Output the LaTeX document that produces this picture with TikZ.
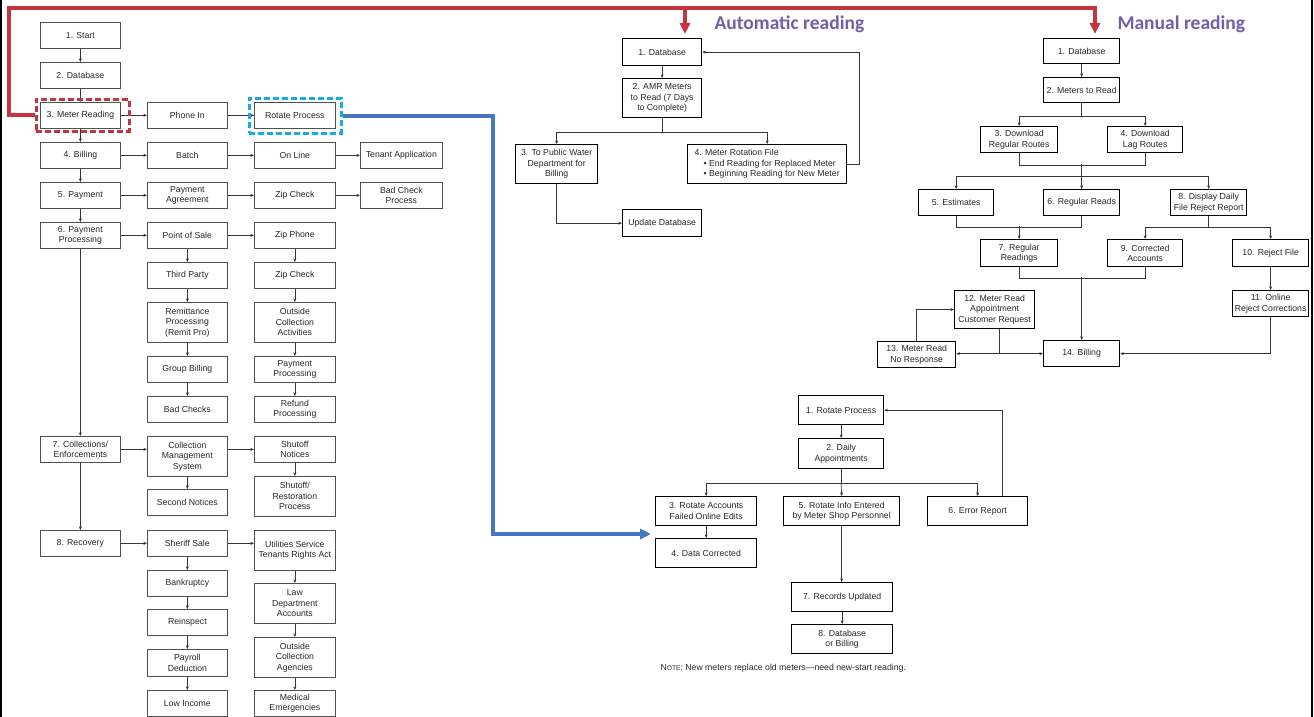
\documentclass[tikz,border=0pt]{standalone}
\usepackage{fontspec}
\setmainfont{Liberation Sans}
\newfontfamily\titlefont{Carlito}
\usetikzlibrary{arrows.meta}
\definecolor{linegray}{RGB}{55,55,55}
\definecolor{boxgray}{RGB}{80,80,80}
\definecolor{textgray}{RGB}{40,40,40}
\definecolor{redline}{RGB}{198,52,62}
\definecolor{blueline}{RGB}{68,118,196}
\definecolor{cyanline}{RGB}{24,170,226}
\definecolor{titlepurple}{RGB}{116,94,166}
\tikzset{
  box/.style={draw=boxgray, line width=0.7pt, fill=white, inner sep=1pt,
    align=center, anchor=north west, text=textgray,
    font=\fontsize{8.7}{10.5}\selectfont},
  bbox/.style={box, draw=black, line width=1.3pt},
  ln/.style={draw=linegray, line width=0.6pt},
  arr/.style={ln, -{Stealth[length=3.6pt,width=3pt]}},
  redpath/.style={draw=redline, line width=4pt},
  bluepath/.style={draw=blueline, line width=4pt},
  bigtip/.style={-{Triangle[length=11pt,width=10pt]}},
  title/.style={anchor=west, text=titlepurple, font=\titlefont\bfseries\fontsize{19.5}{22}\selectfont},
}
% box from (x1,y1) to (x2,y2), y measured downward
\newcommand\bx[6][box]{\node[#1,minimum width={(#4-(#2))*1pt},minimum height={(#5-(#3))*1pt}] (#6) at (#2,#3)}
\begin{document}
\begin{tikzpicture}[x=1pt,y=-1pt]
\useasboundingbox (0,0) rectangle (1314,717);
\fill[white] (0,0) rectangle (1314,717);
\draw[black, line width=1.3pt] (1,0) -- (1,717);
\draw[black, line width=1.3pt] (1312,0) -- (1312,717);

% ---------- main billing flow ----------
\bx{40}{22}{120}{48}{start} {1. Start};
\bx{40}{62}{120}{88}{db} {2. Database};
\bx{40}{102}{120}{128}{mr} {3. Meter Reading};
\bx{40}{142}{120}{168}{bill} {4. Billing};
\bx{40}{182}{120}{208}{pay} {5. Payment};
\bx{40}{222}{120}{248}{pp} {6. Payment\\Processing};
\bx{40}{436}{120}{462}{coll} {7. Collections/\\Enforcements};
\bx{40}{530}{120}{556}{rec} {8. Recovery};

\bx{147}{102}{227}{128}{phone} {Phone In};
\bx{147}{142}{227}{168}{batch} {Batch};
\bx{147}{182}{227}{208}{pagr} {Payment\\Agreement};
\bx{147}{222}{227}{248}{pos} {Point of Sale};
\bx{147}{262}{227}{288}{third} {Third Party};
\bx{147}{302}{227}{342}{remit} {Remittance\\Processing\\(Remit Pro)};
\bx{147}{356}{227}{382}{group} {Group Billing};
\bx{147}{396}{227}{422}{badch} {Bad Checks};
\bx{147}{436}{227}{476}{cms} {Collection\\Management\\System};
\bx{147}{489}{227}{515}{second} {Second Notices};
\bx{147}{530}{227}{556}{sheriff} {Sheriff Sale};
\bx{147}{570}{227}{596}{bankr} {Bankruptcy};
\bx{147}{609}{227}{635}{reinsp} {Reinspect};
\bx{147}{649}{227}{676}{payroll} {Payroll\\Deduction};
\bx{147}{690}{227}{716}{lowinc} {Low Income};

\bx{254}{102}{335}{128}{rot} {Rotate Process};
\bx{254}{142}{335}{168}{online} {On Line};
\bx{254}{182}{335}{208}{zipc} {Zip Check};
\bx{254}{222}{335}{248}{zipp} {Zip Phone};
\bx{254}{262}{335}{288}{zipcb} {Zip Check};
\bx{254}{302}{335}{342}{outact} {Outside\\Collection\\Activities};
\bx{254}{356}{335}{382}{payproc} {Payment\\Processing};
\bx{254}{396}{335}{422}{refund} {Refund\\Processing};
\bx{254}{436}{335}{462}{shutn} {Shutoff\\Notices};
\bx{254}{476}{335}{516}{shutr} {Shutoff/\\Restoration\\Process};
\bx{254}{530}{335}{570}{util} {Utilities Service\\Tenants Rights Act};
\bx{254}{583}{335}{623}{law} {Law\\Department\\Accounts};
\bx{254}{637}{335}{677}{outag} {Outside\\Collection\\Agencies};
\bx{254}{690}{335}{716}{medic} {Medical\\Emergencies};

\bx{360}{142}{442}{168}{tenant} {Tenant Application};
\bx{360}{182}{442}{208}{badcp} {Bad Check\\Process};

% vertical links
\foreach \a/\b in {start/db, db/mr, mr/bill, bill/pay, pay/pp, pp/coll, coll/rec,
  pos/third, third/remit, remit/group, group/badch, cms/second,
  sheriff/bankr, bankr/reinsp, reinsp/payroll, payroll/lowinc,
  zipp/zipcb, zipcb/outact, outact/payproc, payproc/refund, shutn/shutr,
  util/law, law/outag, outag/medic}
  \draw[arr] (\a) -- (\b);
% horizontal links, level with the source box
\foreach \a/\b in {mr/phone, phone/rot, bill/batch, batch/online, online/tenant,
  pay/pagr, pagr/zipc, zipc/badcp, pp/pos, pos/zipp, coll/cms,
  rec/sheriff, sheriff/util}
  \draw[arr] (\a.east) -- (\a.east -| \b.west);
\draw[arr] (shutn.west -| cms.east) -- (shutn.west);

% highlight frames
\node[draw=redline, line width=2.6pt, dash pattern=on 6pt off 3pt,
  minimum width=93pt, minimum height=32pt, anchor=north west, inner sep=0] (mrsel) at (35,98) {};
\node[draw=cyanline, line width=2.6pt, dash pattern=on 6pt off 3pt,
  minimum width=92pt, minimum height=35pt, anchor=north west, inner sep=0] (rotsel) at (248,97) {};

% ---------- automatic reading ----------
\node[title] (autot) at (711,24) {Automatic reading};
\bx[bbox]{622}{38}{701}{65}{adb} {1. Database};
\bx[bbox]{622}{78}{701}{117}{amr} {2. AMR Meters\\to Read (7 Days\\to Complete)};
\bx[bbox]{515}{144}{597}{183}{apub} {3. To Public Water\\Department for\\Billing};
\node[bbox, align=left, minimum width=159pt, minimum height=39pt] (arot) at (687,144)
  {4. Meter Rotation File\\\hspace*{9pt}• End Reading for Replaced Meter\\\hspace*{9pt}• Beginning Reading for New Meter};
\bx[bbox]{622}{209}{701}{236}{aupd} {Update Database};

\draw[arr] (adb) -- (amr);
\draw[ln] (amr.south) -- ++(0,14) coordinate (asplit);
\draw[arr] (asplit) -| (apub.north);
\draw[arr] (asplit) -| (arot.north);
\draw[arr] (arot.east) -- ++(12,0) |- (adb.east);
\draw[arr] (apub.south) |- (aupd.west);

% ---------- manual reading ----------
\node[title] (mant) at (1114,24) {Manual reading};
\bx[bbox]{1043}{38}{1119}{63}{mdb} {1. Database};
\bx[bbox]{1043}{77}{1119}{102}{mread} {2. Meters to Read};
\bx[bbox]{980}{126}{1057}{152}{mtri} {3. Download\\Regular Routes};
\bx[bbox]{1107}{126}{1182}{152}{mfour} {4. Download\\Lag Routes};
\bx[bbox]{918}{189}{993}{215}{mfive} {5. Estimates};
\bx[bbox]{1043}{189}{1119}{215}{msix} {6. Regular Reads};
\bx[bbox]{1170}{189}{1246}{215}{meight} {8. Display Daily\\File Reject Report};
\bx[bbox]{980}{239}{1057}{266}{mseven} {7. Regular\\Readings};
\bx[bbox]{1107}{239}{1182}{266}{mnine} {9. Corrected\\Accounts};
\bx[bbox]{1232}{239}{1308}{266}{mten} {10. Reject File};
\bx[bbox]{1232}{290}{1308}{316}{meleven} {11. Online\\Reject Corrections};
\bx[bbox]{954}{290}{1034}{328}{mtwelve} {12. Meter Read\\Appointment\\Customer Request};
\bx[bbox]{877}{341}{955}{367}{mthirteen} {13. Meter Read\\No Response};
\bx[bbox]{1043}{340}{1119}{366}{mfourteen} {14. Billing};

\draw[arr] (mdb) -- (mread);
\draw[ln] (mread.south) -- ++(0,13) coordinate (ms1);
\draw[arr] (ms1) -| (mtri.north);
\draw[arr] (ms1) -| (mfour.north);
\draw[ln] (mtri.south) -- ++(0,12) -| (mfour.south);
\draw[ln] (mread.south |- 0,164) -- (mread.south |- 0,176) coordinate (ms2);
\draw[arr] (ms2) -| (mfive.north);
\draw[arr] (ms2) -- (msix.north);
\draw[arr] (ms2) -| (meight.north);
\draw[ln] (mfive.south) -- ++(0,11) -| (msix.south);
\draw[arr] (mseven.north |- 0,226) -- (mseven.north);
\draw[ln] (meight.south) -- ++(0,11) coordinate (ms3);
\draw[arr] (ms3) -| (mnine.north);
\draw[arr] (ms3) -| (mten.north);
\draw[ln] (mseven.south) -- ++(0,11) -| (mnine.south);
\draw[arr] (mfourteen.north |- 0,277) -- (mfourteen.north);
\draw[arr] (mten) -- (meleven);
\draw[arr] (meleven.south) |- (mfourteen.east);
\draw[ln] ([xshift=5pt]mtwelve.south) -- ([xshift=5pt]mtwelve.south |- mfourteen.west) coordinate (ms4);
\draw[arr] (ms4) -- (mthirteen.east |- ms4);
\draw[arr] (ms4) -- (mfourteen.west);
\draw[arr] (mthirteen.north) |- (mtwelve.west);

% ---------- rotate process ----------
\bx[bbox]{798}{395}{883}{424}{rone} {1. Rotate Process};
\bx[bbox]{798}{438}{883}{468}{rtwo} {2. Daily\\Appointments};
\bx[bbox]{655}{496}{756}{525}{rthree} {3. Rotate Accounts\\Failed Online Edits};
\bx[bbox]{655}{538}{756}{567}{rfour} {4. Data Corrected};
\bx[bbox]{783}{496}{899}{525}{rfive} {5. Rotate Info Entered\\by Meter Shop Personnel};
\bx[bbox]{927}{496}{1027}{525}{rsix} {6. Error Report};
\bx[bbox]{791}{582}{892}{611}{rseven} {7. Records Updated};
\bx[bbox]{791}{624}{892}{653}{reight} {8. Database\\or Billing};

\draw[arr] (rone) -- (rtwo);
\draw[ln] (rtwo.south) -- ++(0,14) coordinate (rs);
\draw[arr] (rs) -| (rthree.north);
\draw[arr] (rs) -- (rfive.north);
\draw[arr] (rs) -| (rsix.north);
\draw[arr] (rthree) -- (rfour);
\draw[arr] (rfive.south) -- (rfive.south |- rseven.north);
\draw[arr] (rseven) -- (reight);
\draw[arr] ([xshift=25pt]rsix.north) |- (rone.east);

\node[anchor=west, text=textgray, font=\fontsize{8.7}{10.5}\selectfont] (note) at (657,668)
  {N{\fontsize{6.7}{8}\selectfont OTE}: New meters replace old meters—need new-start reading.};

% ---------- highlight connectors ----------
\coordinate (rc) at (9,8);
\coordinate (autotip) at (685,34);
\coordinate (mantip) at (1095,34);
\draw[redpath, bigtip] (mrsel.west) -| (rc) -| (mantip);
\draw[redpath, bigtip] (autotip |- rc) -- (autotip);

\coordinate (bcorner) at (493,534);
\coordinate (bluetip) at (651,534);
\draw[bluepath, bigtip] (rotsel.east) -| (bcorner) -- (bluetip);
\end{tikzpicture}
\end{document}
